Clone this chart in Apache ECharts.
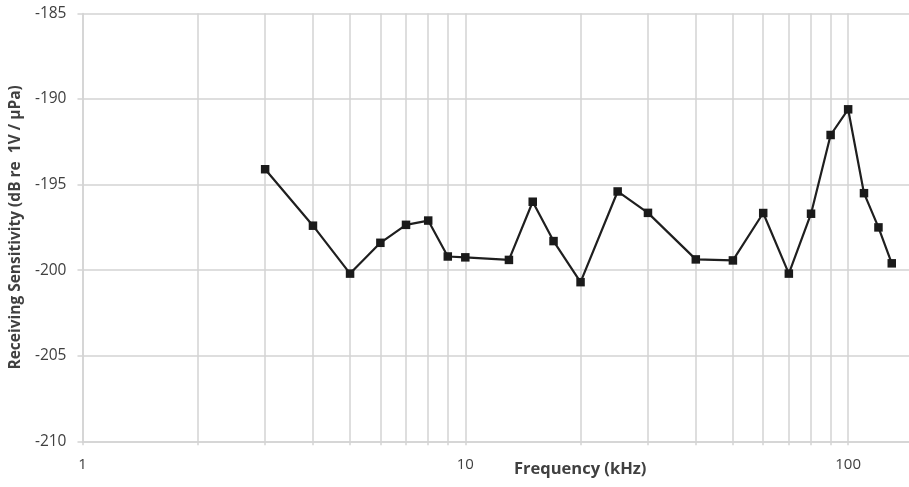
<!DOCTYPE html>
<html>
<head>
<meta charset="utf-8">
<script src="https://cdn.jsdelivr.net/npm/echarts@6/dist/echarts.min.js"></script>
<style>
html,body{margin:0;padding:0;background:#fff;}
#chart{width:909px;height:487px;}
</style>
</head>
<body>
<div id="chart"></div>
<script>
var frequencies = [3, 4, 5, 6, 7, 8, 9, 10, 13, 15, 17, 20, 25, 30, 40, 50, 60, 70, 80, 90, 100, 110, 120, 130];
var sensitivity = [-194.1, -197.4, -200.2, -198.4, -197.35, -197.1, -199.2, -199.25, -199.4, -196.0, -198.3, -200.7, -195.4, -196.65, -199.37, -199.43, -196.66, -200.2, -196.7, -192.1, -190.6, -195.5, -197.5, -199.6];
var xTickValues = [1,2,3,4,5,6,7,8,9,10,20,30,40,50,60,70,80,90,100];
var xLabelValues = [1, 10, 100];
var xMin = 1, xMax = 144.2;
var yMin = -210, yMax = -185, yStep = 5;
var xTitle = 'Frequency (kHz)';
var yTitle = 'Receiving Sensitivity (dB re  1V / µPa)';

var chart = echarts.init(document.getElementById('chart'));
var gridColor = '#d3d3d3';
var textColor = '#404040';
var font = 'Open Sans';

chart.setOption({
  animation: false,
  grid: {left: 81, top: 13.5, bottom: 45.7, right: 0, containLabel: false},
  xAxis: {
    type: 'log', logBase: 10, min: xMin, max: xMax,
    axisLine: {show: true, lineStyle: {color: gridColor, width: 1.5}},
    axisTick: {show: true, length: 4, customValues: xTickValues, lineStyle: {color: gridColor, width: 1.5}},
    axisLabel: {customValues: xLabelValues, color: textColor, fontFamily: font, fontSize: 15, margin: 16},
    splitLine: {show: true, lineStyle: {color: gridColor, width: 1.5}},
    minorTick: {show: false},
    minorSplitLine: {show: false}
  },
  yAxis: {
    type: 'value', min: yMin, max: yMax, interval: yStep,
    name: yTitle, nameLocation: 'middle', nameGap: 54, nameRotate: 90,
    nameTextStyle: {color: textColor, fontFamily: font, fontSize: 15.5, fontWeight: 'bold'},
    axisLine: {show: true, lineStyle: {color: gridColor, width: 1.5}},
    axisTick: {show: true, length: 5, inside: false, lineStyle: {color: gridColor, width: 1.5}},
    axisLabel: {color: textColor, fontFamily: font, fontSize: 15.5, margin: 16},
    splitLine: {show: true, lineStyle: {color: gridColor, width: 1.5}}
  },
  graphic: [{
    type: 'text', left: 514, top: 461,
    style: {text: xTitle, fill: textColor, font: 'bold 16.5px "Open Sans"'}
  }],
  series: [{
    type: 'line',
    data: frequencies.map(function (f, i) { return [f, sensitivity[i]]; }),
    symbol: 'rect', symbolSize: 8.5,
    itemStyle: {color: '#1a1a1a'},
    lineStyle: {color: '#1f1f1f', width: 2.2},
    clip: true
  }]
});
</script>
</body>
</html>
